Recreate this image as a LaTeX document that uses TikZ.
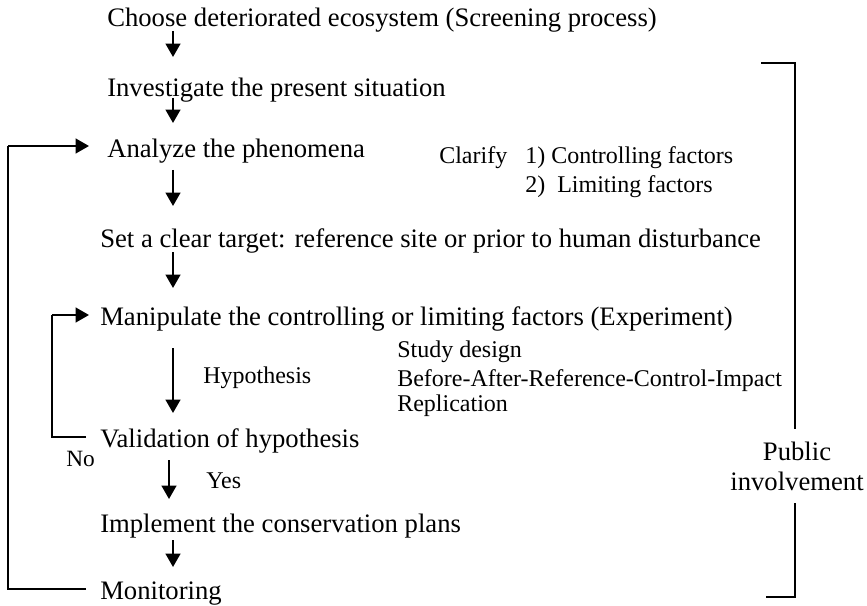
\documentclass[tikz,border=0pt]{standalone}
\usepackage{fontspec}
\setmainfont{Liberation Serif}
\usetikzlibrary{arrows.meta}
\begin{document}
\begin{tikzpicture}[x=0.75pt,y=-0.75pt,
  txt/.style={anchor=base west,inner sep=0pt,font=\fontsize{20}{23}\selectfont},
  side/.style={anchor=base west,inner sep=0pt,font=\fontsize{18}{21}\selectfont},
  arr/.style={line width=1.6pt,-{Triangle[length=10pt,width=11pt]}},
  loopl/.style={line width=1.6pt},
  brk/.style={line width=1.8pt}]
\useasboundingbox (0,0) rectangle (867,606);
% main steps
\node[txt] (choose) at (107,27) {Choose deteriorated ecosystem (Screening process)};
\node[txt] (invest) at (107,97) {Investigate the present situation};
\node[txt] (analyze) at (107,158) {Analyze the phenomena};
\node[txt] (target) at (100,247) {Set a clear target: reference site or prior to human disturbance};
\node[txt] (manip) at (100,325) {Manipulate the controlling or limiting factors (Experiment)};
\node[txt] (valid) at (100,447) {Validation of hypothesis};
\node[txt] (impl) at (100,532) {Implement the conservation plans};
\node[txt] (monit) at (100,599) {Monitoring};
% side notes
\node[side] (clarify) at (439,164) {Clarify};
\node[side] (ctrl) at (525,164) {1) Controlling factors};
\node[side] (limit) at (525,193) {2)\ \ Limiting factors};
\node[side] (hyp) at (203,383) {Hypothesis};
\node[side] (study) at (397,357) {Study design};
\node[side] (bacri) at (397,386) {Before-After-Reference-Control-Impact};
\node[side] (repl) at (397,411) {Replication};
\node[side,font=\fontsize{17.5}{20}\selectfont] (no) at (66,466) {No};
\node[side] (yes) at (206,488) {Yes};
\node[txt,anchor=base] (public) at (797,460) {Public};
\node[txt,anchor=base] (involve) at (797,490) {involvement};
% arrow end points
\coordinate (a1s) at (173,31); \coordinate (a1e) at (173,57);
\coordinate (a2s) at (173,98); \coordinate (a2e) at (173,123);
\coordinate (a3s) at (173,170); \coordinate (a3e) at (173,206);
\coordinate (a4s) at (173,252); \coordinate (a4e) at (173,288);
\coordinate (a5s) at (173,348); \coordinate (a5e) at (173,413);
\coordinate (a6s) at (169,460); \coordinate (a6e) at (169,499);
\coordinate (a7s) at (173,540); \coordinate (a7e) at (173,567);
\draw[arr] (a1s) -- (a1e);
\draw[arr] (a2s) -- (a2e);
\draw[arr] (a3s) -- (a3e);
\draw[arr] (a4s) -- (a4e);
\draw[arr] (a5s) -- (a5e);
\draw[arr] (a6s) -- (a6e);
\draw[arr] (a7s) -- (a7e);
% feedback loops
\coordinate (o1) at (86,589); \coordinate (o2) at (8,589);
\coordinate (o3) at (8,146); \coordinate (o4) at (89,146);
\draw[loopl] (o1) -- (o2) -- (o3);
\draw[arr] (o3) -- (o4);
\coordinate (i1) at (86,437); \coordinate (i2) at (52,437);
\coordinate (i3) at (52,315); \coordinate (i4) at (89,315);
\draw[loopl] (i1) -- (i2) -- (i3);
\draw[arr] (i3) -- (i4);
% bracket
\coordinate (b1) at (761,63); \coordinate (b2) at (795,63);
\coordinate (b3) at (795,429); \coordinate (b4) at (795,503);
\coordinate (b5) at (795,597); \coordinate (b6) at (766,597);
\draw[brk] (b1) -- (b2) -- (b3);
\draw[brk] (b4) -- (b5) -- (b6);
\end{tikzpicture}
\end{document}
